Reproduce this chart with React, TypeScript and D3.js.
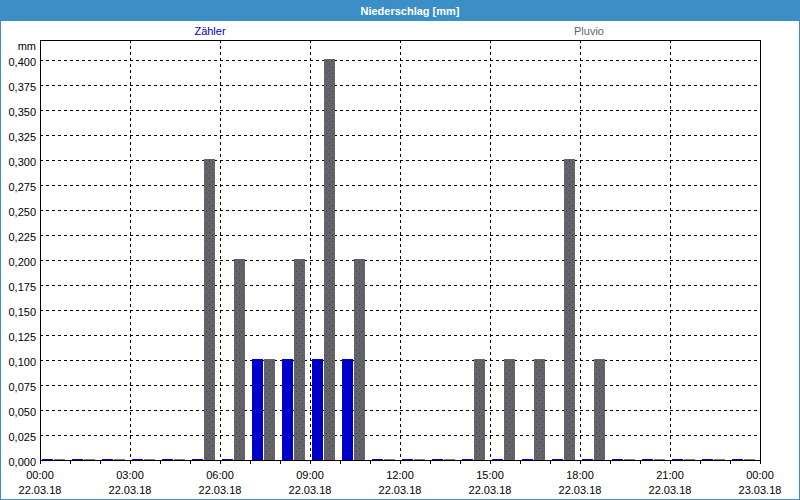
import React from "react";
import * as d3 from "d3";

const hours = d3.range(0, 24);
const zaehler = [0, 0, 0, 0, 0, 0, 0, 0.1, 0.1, 0.1, 0.1, 0, 0, 0, 0, 0, 0, 0, 0, 0, 0, 0, 0, 0];
const pluvio = [0, 0, 0, 0, 0, 0.3, 0.2, 0.1, 0.2, 0.4, 0.2, 0, 0, 0, 0.1, 0.1, 0.1, 0.3, 0.1, 0, 0, 0, 0, 0];
const yTicks = d3.range(0, 0.4001, 0.025);
const xTickHours = [0, 3, 6, 9, 12, 15, 18, 21, 24];
const xTimeLabels = ["00:00", "03:00", "06:00", "09:00", "12:00", "15:00", "18:00", "21:00", "00:00"];
const xDateLabels = ["22.03.18", "22.03.18", "22.03.18", "22.03.18", "22.03.18", "22.03.18", "22.03.18", "22.03.18", "23.03.18"];

const W = 800, H = 500;
const L = 40, R = 760, T = 40, B = 460;
const BLUE = "#0000C8";
const GREY = "#646464";
const FRAME = "#3C8FC6";
const FONT = "'Liberation Sans', Arial, sans-serif";

export default function App() {
  const x = d3.scaleLinear().domain([0, 24]).range([L, R]);
  const y = d3.scaleLinear().domain([0, 0.42]).range([B, T]);
  const fmt = (v: number) => v.toFixed(3).replace(".", ",");
  const barW = 11;
  const barTop = (v: number) => Math.round(y(v)) - 1;

  return (
    <svg width={W} height={H} style={{ position: "absolute", left: 0, top: 0, display: "block" }}
      fontFamily={FONT}>
      <defs>
        <pattern id="dots" width={6} height={6} patternUnits="userSpaceOnUse">
          <rect width={6} height={6} fill={GREY} />
          <rect x={2} y={1} width={1} height={1} fill="#3A3AA0" />
          <rect x={5} y={4} width={1} height={1} fill="#3A3AA0" />
        </pattern>
      </defs>
      <rect x={0} y={0} width={W} height={H} fill="#FFFFFF" />
      <rect x={0.5} y={0.5} width={W - 1} height={H - 1} fill="none" stroke={FRAME} strokeWidth={1} />
      <rect x={0} y={0} width={W} height={21} fill={FRAME} />
      <text x={410} y={15} textAnchor="middle" fill="#FFFFFF" fontWeight="bold" fontSize={11}>
        Niederschlag [mm]
      </text>

      <text x={210} y={35} textAnchor="middle" fill={BLUE} fontSize={11}>Zähler</text>
      <text x={589} y={35} textAnchor="middle" fill={GREY} fontSize={11}>Pluvio</text>

      <text x={36} y={50} textAnchor="end" fill="#000" fontSize={11}>mm</text>

      {yTicks.map((v, i) => (
        <g key={"y" + i}>
          {v > 0 && (
            <line x1={L} x2={R} y1={Math.round(y(v)) + 0.5} y2={Math.round(y(v)) + 0.5}
              stroke="#000" strokeDasharray="3,3" strokeWidth={1} />
          )}
          <text x={36} y={Math.round(y(v)) + 6} textAnchor="end" fill="#000" fontSize={11}>
            {fmt(v)}
          </text>
        </g>
      ))}

      {xTickHours.slice(1, -1).map((h) => (
        <line key={"vx" + h} x1={x(h) + 0.5} x2={x(h) + 0.5} y1={T} y2={B}
          stroke="#000" strokeDasharray="3,3" strokeWidth={1} />
      ))}

      {d3.range(0, 25).map((h) => (
        <line key={"t" + h} x1={x(h) + 0.5} x2={x(h) + 0.5} y1={B} y2={B + 4} stroke="#000" />
      ))}

      {hours.map((h, i) => {
        const x0 = x(h);
        const zt = barTop(zaehler[i]);
        const pt = barTop(pluvio[i]);
        return (
          <g key={"b" + h}>
            <rect x={x0 + 2} y={zt} width={barW} height={B + 1 - zt} fill={BLUE} />
            <rect x={x0 + 14} y={pt} width={barW} height={B + 1 - pt}
              fill={pluvio[i] > 0 ? "url(#dots)" : "#7A7A7A"} />
          </g>
        );
      })}

      <rect x={L + 0.5} y={T + 0.5} width={R - L} height={B - T} fill="none" stroke="#000" strokeWidth={1} />

      {xTickHours.map((h, i) => (
        <g key={"xl" + i}>
          <text x={x(h)} y={479} textAnchor="middle" fill="#000" fontSize={11}>{xTimeLabels[i]}</text>
          <text x={x(h)} y={494} textAnchor="middle" fill="#000" fontSize={11}>{xDateLabels[i]}</text>
        </g>
      ))}
    </svg>
  );
}
